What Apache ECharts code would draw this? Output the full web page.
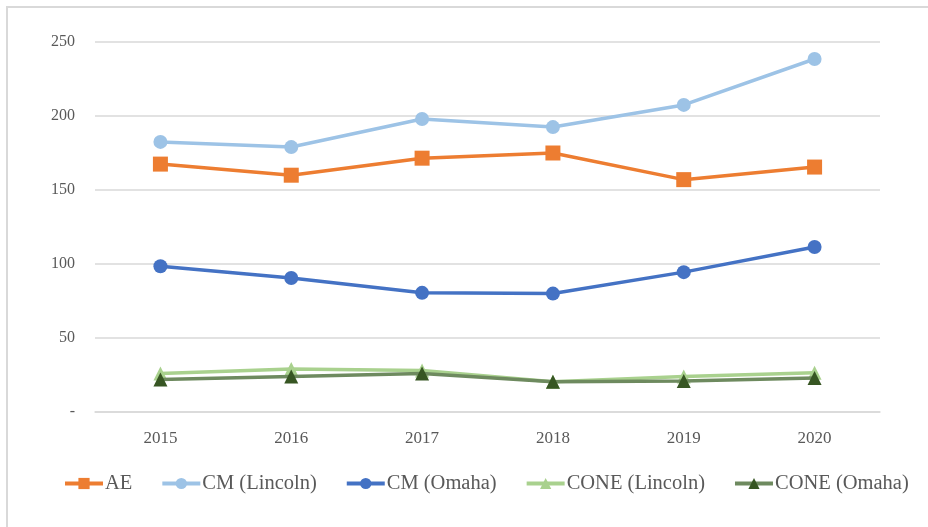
<!DOCTYPE html>
<html><head><meta charset="utf-8">
<script src="https://cdn.jsdelivr.net/npm/echarts@6/dist/echarts.min.js"></script>
<style>
html,body{margin:0;padding:0;background:#fff;}
#frame{position:absolute;left:6px;top:6px;width:940px;height:540px;border-left:2px solid #d9d9d9;border-top:2px solid #d9d9d9;}
#chart{position:absolute;left:0;top:0;width:928px;height:527px;}
</style></head>
<body>
<div id="frame"></div>
<div id="chart"></div>
<script>
const years = ['2015','2016','2017','2018','2019','2020'];
const seriesNames = ['AE','CM (Lincoln)','CM (Omaha)','CONE (Lincoln)','CONE (Omaha)'];
const ae = [167.5, 160, 171.5, 175, 157, 165.5];
const cmLincoln = [182.5, 179, 198, 192.5, 207.5, 238.5];
const cmOmaha = [98.5, 90.5, 80.5, 80, 94.5, 111.5];
const coneLincoln = [26, 29, 28, 20.5, 24, 26.5];
const coneOmaha = [22, 24, 26, 20.5, 21, 23];
const yTicks = [0, 50, 100, 150, 200, 250];

const font = '"Liberation Serif", "DejaVu Serif", serif';
function mk(name, data, lineColor, markColor, symbol, size, z) {
  return {
    name, type: 'line', data, symbol, symbolSize: size, z,
    lineStyle: {color: lineColor, width: 3.5},
    itemStyle: {color: markColor, borderWidth: 0},
    emphasis: {disabled: true}
  };
}
const chart = echarts.init(document.getElementById('chart'));
chart.setOption({
  animation: false,
  backgroundColor: 'transparent',
  grid: {left: 95, right: 48, top: 42, bottom: 115},
  xAxis: {
    type: 'category', data: years, boundaryGap: true,
    axisLine: {lineStyle: {color: '#d9d9d9', width: 1.5}},
    axisTick: {show: false},
    axisLabel: {color: '#595959', fontFamily: font, fontSize: 17, margin: 18}
  },
  yAxis: {
    type: 'value', min: 0, max: 250, interval: 50,
    axisLine: {show: false}, axisTick: {show: false},
    splitLine: {lineStyle: {color: '#d9d9d9', width: 1.5}},
    axisLabel: {color: '#595959', fontFamily: font, fontSize: 16, margin: 20,
      formatter: v => yTicks.includes(v) ? (v === 0 ? '-' : String(v)) : ''}
  },
  legend: {
    bottom: 28, left: 58, itemGap: 28, itemWidth: 38, itemHeight: 14,
    lineStyle: {width: 4},
    textStyle: {color: '#595959', fontFamily: font, fontSize: 20.5, padding: [0,0,0,-3]},
    data: seriesNames
  },
  series: [
    mk(seriesNames[0], ae, '#ed7d31', '#ed7d31', 'rect', 15, 5),
    mk(seriesNames[1], cmLincoln, '#9dc3e6', '#9dc3e6', 'circle', 14, 4),
    mk(seriesNames[2], cmOmaha, '#4472c4', '#4472c4', 'circle', 14, 3),
    mk(seriesNames[3], coneLincoln, '#a9d18e', '#a9d18e', 'triangle', 14, 2),
    mk(seriesNames[4], coneOmaha, '#6e8a5f', '#375623', 'triangle', 14, 3)
  ]
});
</script>
</body></html>
